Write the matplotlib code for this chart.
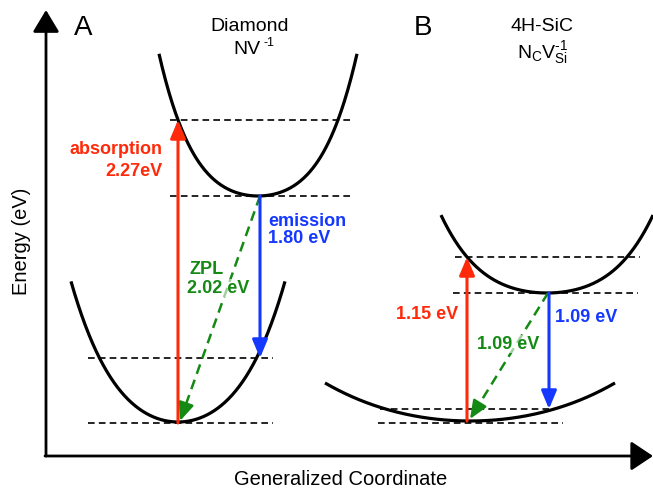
import matplotlib.pyplot as plt
import numpy as np

plt.rcParams['font.family'] = ['Liberation Sans', 'DejaVu Sans']
plt.rcParams['mathtext.fontset'] = 'custom'
plt.rcParams['mathtext.rm'] = 'Liberation Sans'
plt.rcParams['mathtext.it'] = 'Liberation Sans:italic'
plt.rcParams['mathtext.bf'] = 'Liberation Sans:bold'

RED = '#ff2a0a'
BLUE = '#1438ff'
GREEN = '#148a14'

# potential wells (diagram units: x = coordinate, E = energy)
# E(x) = bottom + k2*dx^2 + k4*dx^4
well_names = ['A excited', 'A ground', 'B excited', 'B ground']
well_center = [258, 178, 547, 470]
well_bottom = [292, 66, 195, 67]
well_halfwidth = [99, 107, 106, 145]
well_k2 = [0.00696, 0.00816, 0.0039, 0.00162]
well_k4 = [7.7e-7, 3.6e-7, 2.7e-7, 9e-9]

# vibronic levels (dashed): energy, x from, x to
level_energy = [368, 292, 130, 65, 231, 195, 79, 65]
level_x0 = [170, 170, 88, 88, 455, 453, 380, 378]
level_x1 = [353, 353, 273, 273, 640, 638, 555, 563]

# transitions: x start, E start, x end, E end
absorption = [(178, 65, 178, 368), (467, 67, 467, 231)]
emission = [(260, 292, 260, 130), (549, 195, 549, 79)]
zpl = [(260, 292, 180, 67), (548, 195, 470, 69)]

fig = plt.figure(figsize=(6.53, 4.89), dpi=100)
ax = fig.add_axes([0, 0, 1, 1])
ax.set_xlim(0, 653)
ax.set_ylim(0, 489)
ax.axis('off')

# axes arrows
ax.annotate('', xy=(46, 478), xytext=(46, 32),
            arrowprops=dict(arrowstyle='-|>,head_length=0.45,head_width=0.27',
                            mutation_scale=30, lw=2, color='black',
                            shrinkA=0, shrinkB=0))
ax.annotate('', xy=(653, 32), xytext=(45, 32),
            arrowprops=dict(arrowstyle='-|>,head_length=0.45,head_width=0.3',
                            mutation_scale=30, lw=2, color='black',
                            shrinkA=0, shrinkB=0))

for c, b, hw, k2, k4 in zip(well_center, well_bottom, well_halfwidth, well_k2, well_k4):
    x = np.linspace(c - hw, c + hw, 300)
    dx = x - c
    ax.plot(x, b + k2 * dx ** 2 + k4 * dx ** 4, color='black', lw=2.3,
            solid_capstyle='butt')

for e, x0, x1 in zip(level_energy, level_x0, level_x1):
    ax.plot([x0, x1], [e, e], color='black', lw=1.2, ls=(0, (4, 2.5)))

head = '-|>,head_length=0.5,head_width=0.21'
for group, col in [(absorption, RED), (emission, BLUE)]:
    for xs, es, xe, ee in group:
        ax.annotate('', xy=(xe, ee), xytext=(xs, es),
                    arrowprops=dict(arrowstyle=head, mutation_scale=22, lw=2.2,
                                    color=col, shrinkA=0, shrinkB=0))

for xs, es, xe, ee in zpl:
    frac = 0.93
    xm, em = xs + (xe - xs) * frac, es + (ee - es) * frac
    ax.plot([xs, xm], [es, em], color=GREEN, lw=1.8, ls=(0, (4, 2.5)), zorder=2)
    ax.annotate('', xy=(xe, ee), xytext=(xm, em),
                arrowprops=dict(arrowstyle=head, mutation_scale=22, lw=1.8,
                                color=GREEN, shrinkA=0, shrinkB=0), zorder=2)

# titles
ax.text(83, 461, 'A', fontsize=20, ha='center', va='center')
ax.text(423, 461, 'B', fontsize=20, ha='center', va='center')
ax.text(250, 462, 'Diamond', fontsize=14, ha='center', va='center')
ax.text(247, 439, 'NV', fontsize=14, ha='center', va='center')
ax.text(264, 446, '-1', fontsize=9, ha='left', va='center')
ax.text(542, 462, '4H-SiC', fontsize=14, ha='center', va='center')
ax.text(543, 436, r'N$_\mathrm{C}$V$_\mathrm{Si}^{\text{-1}}$', fontsize=14,
        ha='center', va='center')

# transition labels
lab = dict(fontsize=13, fontweight='bold', va='center')
box = dict(facecolor='white', alpha=0.6, edgecolor='none', pad=0.5)
ax.text(163, 339, 'absorption', color=RED, ha='right', **lab)
ax.text(163, 317, '2.27eV', color=RED, ha='right', **lab)
ax.text(268, 267, 'emission', color=BLUE, ha='left', **lab)
ax.text(268, 250, '1.80 eV', color=BLUE, ha='left', **lab)
ax.text(190, 219, 'ZPL', color=GREEN, ha='left', bbox=box, zorder=3, **lab)
ax.text(187, 200, '2.02 eV', color=GREEN, ha='left', bbox=box, zorder=3, **lab)
ax.text(458, 174, '1.15 eV', color=RED, ha='right', **lab)
ax.text(555, 171, '1.09 eV', color=BLUE, ha='left', **lab)
ax.text(477, 144, '1.09 eV', color=GREEN, ha='left', bbox=box, zorder=3, **lab)

ax.text(22, 248, 'Energy (eV)', fontsize=14.5, rotation=90, ha='center', va='center')
ax.text(341, 9, 'Generalized Coordinate', fontsize=14.5, ha='center', va='center')

fig.savefig('out.png', dpi=100)
